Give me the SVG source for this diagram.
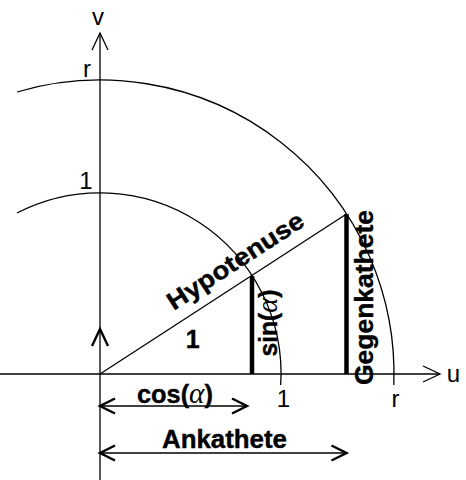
<svg xmlns="http://www.w3.org/2000/svg" width="466" height="480" viewBox="0 0 466 480">
<defs>
<style>
.ln{fill:none;stroke:#000;stroke-width:1.3}
.thick{fill:none;stroke:#000;stroke-width:4.5}
.chev{fill:none;stroke:#000;stroke-width:2.4;stroke-linejoin:miter}
.lbl{font-family:"Liberation Sans",Arial,sans-serif;font-size:24px;fill:#000}
.bold{font-family:"Liberation Sans",Arial,sans-serif;font-size:25px;font-weight:bold;fill:#000;stroke:#000;stroke-width:0.4}
.greek{font-family:"Liberation Serif","Times New Roman",serif;font-size:29px;font-style:italic;font-weight:normal;stroke-width:0}
</style>
<marker id="chevBold" viewBox="-18 -10 21 20" markerWidth="21" markerHeight="20" refX="0" refY="0" markerUnits="userSpaceOnUse" orient="auto-start-reverse">
<path d="M-15,-7.5 L0,0 L-15,7.5" fill="none" stroke="#000" stroke-width="2.4"/>
</marker>
<marker id="chevThin" viewBox="-19 -10 21 20" markerWidth="21" markerHeight="20" refX="0" refY="0" markerUnits="userSpaceOnUse" orient="auto">
<path d="M-17,-8 L0,0 L-17,8" fill="none" stroke="#000" stroke-width="1.3"/>
</marker>
</defs>
<rect width="466" height="480" fill="#fff"/>
<g id="axes">
<line class="ln" x1="0" y1="374" x2="440" y2="374" marker-end="url(#chevThin)"/>
<line class="ln" x1="100" y1="480" x2="100" y2="33" marker-end="url(#chevThin)"/>
<polyline class="chev" points="92,346 100,329 108,346"/>
</g>
<g id="arcs">
<path class="ln" d="M17,92 A294,294 0 0 1 393.8,385"/>
<path class="ln" d="M17,213 A181,181 0 0 1 280.7,385"/>
</g>
<g id="triangle">
<line class="ln" x1="100" y1="374" x2="346.5" y2="214"/>
<line class="thick" x1="252" y1="276" x2="252" y2="374"/>
<line class="thick" x1="346.5" y1="214" x2="346.5" y2="374"/>
</g>
<g id="dimensions">
<line class="ln" x1="100" y1="406" x2="247" y2="406" marker-start="url(#chevBold)" marker-end="url(#chevBold)"/>
<line class="ln" x1="100" y1="453" x2="346.5" y2="453" marker-start="url(#chevBold)" marker-end="url(#chevBold)"/>
</g>
<g id="labels">
<text class="lbl" x="98" y="25" text-anchor="middle">v</text>
<text class="lbl" x="453.5" y="382" text-anchor="middle">u</text>
<text class="lbl" x="87" y="77" text-anchor="middle">r</text>
<text class="lbl" x="86" y="189" text-anchor="middle">1</text>
<text class="lbl" x="283.5" y="407" text-anchor="middle">1</text>
<text class="lbl" x="395.5" y="407" text-anchor="middle">r</text>
<text class="bold" x="192.7" y="348" text-anchor="middle">1</text>
<text class="bold" x="240" y="268" text-anchor="middle" textLength="158" lengthAdjust="spacingAndGlyphs" transform="rotate(-33 240 268)">Hypotenuse</text>
<text class="bold" x="277" y="323" text-anchor="middle" transform="rotate(-90 277 323)" textLength="67" lengthAdjust="spacingAndGlyphs">sin(<tspan class="greek">α</tspan>)</text>
<text class="bold" x="373" y="297.5" text-anchor="middle" textLength="175" lengthAdjust="spacingAndGlyphs" transform="rotate(-90 373 297.5)">Gegenkathete</text>
<text class="bold" x="175" y="403" text-anchor="middle" textLength="76" lengthAdjust="spacingAndGlyphs">cos(<tspan class="greek">α</tspan>)</text>
<text class="bold" x="224.5" y="448" text-anchor="middle" textLength="125" lengthAdjust="spacingAndGlyphs">Ankathete</text>
</g>
</svg>
